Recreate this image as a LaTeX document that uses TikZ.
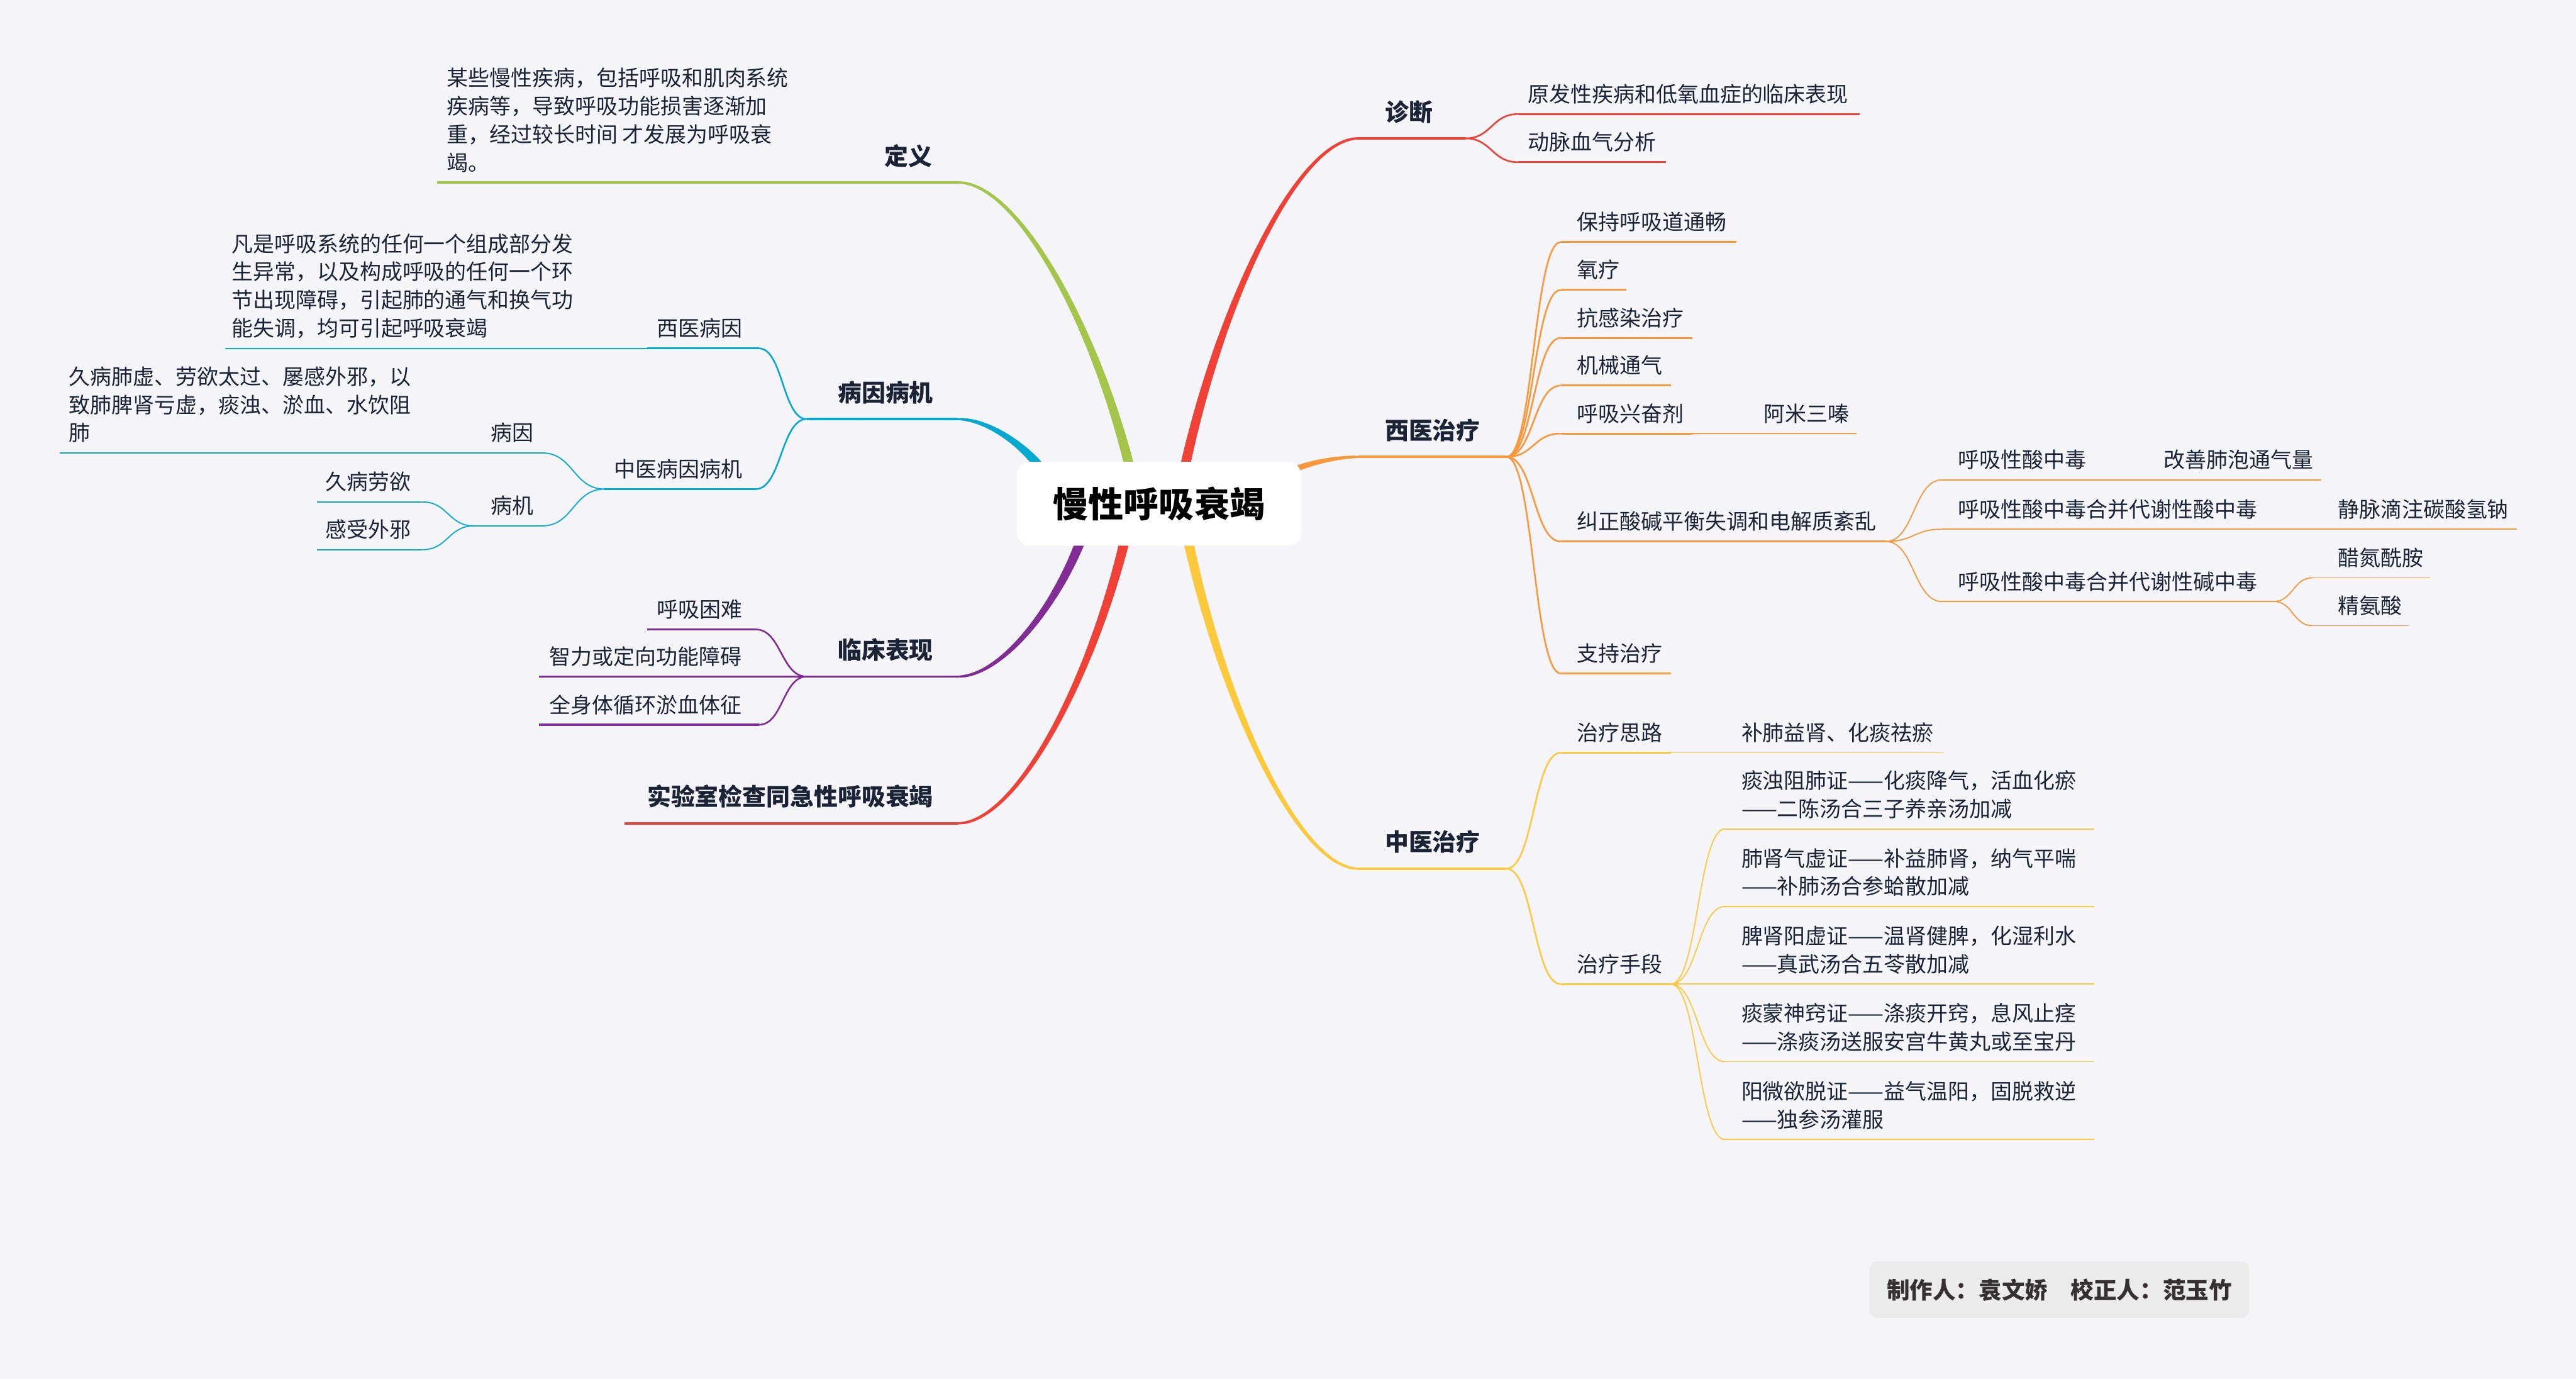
\documentclass[tikz,border=0pt]{standalone}
\usepackage{fontspec}
\setmainfont{Noto Sans CJK SC}
\usetikzlibrary{calc,decorations.markings}
\definecolor{bg}{HTML}{F5F5F9}
\definecolor{txt}{HTML}{1B2336}
\definecolor{cgreen}{HTML}{A3C54A}
\definecolor{ccyan}{HTML}{07A9D1}
\definecolor{cpurple}{HTML}{812D95}
\definecolor{cred}{HTML}{EF4136}
\definecolor{corange}{HTML}{F8983A}
\definecolor{cyellow}{HTML}{FDC83B}
\definecolor{creditbg}{HTML}{EBEBEB}
\definecolor{credittxt}{HTML}{363030}
\newcommand\ms{\rule[-0.12em]{0pt}{1em}}
\tikzset{
  t/.style={anchor=south west, inner sep=0pt, outer sep=0pt, yshift=-0.8pt, text=txt, font=\fontsize{13}{17.2}\selectfont, execute at begin node=\ms},
  tb/.style={t, font=\fontsize{14.5}{18}\selectfont\bfseries},
  ul1/.style={line width=1.4pt},
  ul2/.style={line width=1.2pt},
  ul3/.style={line width=0.7pt},
  cn2/.style={line width=1.0pt},
  cn3/.style={line width=0.7pt},
  sc/.style={to path={let \p1=(\tikztostart), \p2=(\tikztotarget) in (\p1) .. controls ({0.5*\x1+0.5*\x2},\y1) and ({0.5*\x1+0.5*\x2},\y2) .. (\p2)}},
  mb/.style={to path={let \p1=(\tikztostart), \p2=(\tikztotarget) in (\p1) .. controls ({\x1+0.2*(\x2-\x1)},{\y1+0.5*(\y2-\y1)}) and ({\x2-0.35*(\x2-\x1)},\y2) .. (\p2)}},
  taper/.style n args={3}{decoration={markings, mark=between positions 0 and 1 step 0.35pt with {\pgfmathsetmacro\rr{#2-(#2-#3)*\pgfkeysvalueof{/pgf/decoration/mark info/sequence number}*0.35/\pgfdecoratedpathlength}\fill[#1] (0,0) circle (\rr pt);}}, postaction=decorate}
}
\begin{document}
\begin{tikzpicture}[x=1pt,y=1pt]
\fill[bg] (0,0) rectangle (1568,-839);
\useasboundingbox (0,0) rectangle (1568,-839);

% ---------- coordinates: branch starts ----------
\coordinate (s1) at (689,-290);
\coordinate (s2) at (637,-290);
\coordinate (s3) at (660,-323);
\coordinate (s4) at (686,-323);
\coordinate (s5) at (720,-290);
\coordinate (s6) at (783,-288);
\coordinate (s7) at (722,-323);

% ---------- underline ends ----------
\coordinate (dyR) at (583,-111);   \coordinate (dyL) at (530,-111);  \coordinate (dydL) at (266,-111);
\coordinate (bjR) at (583,-255);   \coordinate (bjL) at (491,-255);
\coordinate (xbR) at (462,-212);   \coordinate (xbL) at (394,-212);  \coordinate (xbdL) at (137,-212);
\coordinate (zbR) at (460,-297.6); \coordinate (zbL) at (368,-297.6);
\coordinate (byR) at (330,-275.6); \coordinate (byL) at (289,-275.6); \coordinate (bydL) at (36.5,-275.6);
\coordinate (bmR) at (330,-320);   \coordinate (bmL) at (288.5,-320);
\coordinate (jbR) at (257,-305.4); \coordinate (jbL) at (193,-305.4);
\coordinate (gsR) at (257,-334.5); \coordinate (gsL) at (193,-334.5);
\coordinate (lcR) at (583,-411.7); \coordinate (lcL) at (491,-411.7);
\coordinate (hkR) at (460,-383);   \coordinate (hkL) at (394,-383);
\coordinate (zlR) at (462,-411.7); \coordinate (zlL) at (328,-411.7);
\coordinate (qsR) at (462,-441);   \coordinate (qsL) at (328,-441);
\coordinate (syR) at (583,-501);   \coordinate (syL) at (380,-501);

\coordinate (zdL) at (827,-84.2);  \coordinate (zdR) at (892,-84.2);
\coordinate (yfL) at (924,-69.4);  \coordinate (yfR) at (1132,-69.4);
\coordinate (dmL) at (924,-98.7);  \coordinate (dmR) at (1014,-98.7);

\coordinate (xyL) at (827,-278);   \coordinate (xyR) at (917,-278);
\coordinate (bcL) at (950,-147.3); \coordinate (bcR) at (1057,-147.3);
\coordinate (ylL) at (950,-176.4); \coordinate (ylR) at (990,-176.4);
\coordinate (kgL) at (950,-205.6); \coordinate (kgR) at (1030,-205.6);
\coordinate (jxL) at (950,-234.6); \coordinate (jxR) at (1017,-234.6);
\coordinate (hxL) at (950,-263.8); \coordinate (hxR) at (1030,-263.8); \coordinate (amR) at (1130,-263.8);
\coordinate (jzL) at (950,-329.5); \coordinate (jzR) at (1148,-329.5);
\coordinate (zcL) at (950,-409.8); \coordinate (zcR) at (1017,-409.8);
\coordinate (a1L) at (1182,-292);  \coordinate (a1R) at (1280,-292);  \coordinate (a1dR) at (1413,-292);
\coordinate (a2L) at (1182,-322);  \coordinate (a2R) at (1384,-322);  \coordinate (a2dR) at (1532,-322);
\coordinate (a3L) at (1182,-366);  \coordinate (a3R) at (1384,-366);
\coordinate (cdL) at (1407.5,-351.6); \coordinate (cdR) at (1479,-351.6);
\coordinate (jaL) at (1407.5,-380.7); \coordinate (jaR) at (1466,-380.7);

\coordinate (zyL) at (827,-528.6); \coordinate (zyR) at (917,-528.6);
\coordinate (slL) at (950,-458);   \coordinate (slR) at (1017,-458);  \coordinate (sldR) at (1183,-458);
\coordinate (sdL) at (950,-598.8); \coordinate (sdR) at (1017,-598.8);
\coordinate (z1L) at (1050,-504.4); \coordinate (z1R) at (1274.6,-504.4);
\coordinate (z2L) at (1050,-551.6); \coordinate (z2R) at (1274.6,-551.6);
\coordinate (z3L) at (1050,-598.8); \coordinate (z3R) at (1274.6,-598.8);
\coordinate (z4L) at (1050,-646);   \coordinate (z4R) at (1274.6,-646);
\coordinate (z5L) at (1050,-693.4); \coordinate (z5R) at (1274.6,-693.4);

% ---------- main branches (tapered) ----------
\path[taper={cgreen}{3}{0.7}]   (s1) to[mb] (dyR);
\path[taper={ccyan}{3}{0.7}]    (s2) to[mb] (bjR);
\path[taper={cpurple}{3}{0.7}]  (s3) to[mb] (lcR);
\path[taper={cred}{3}{0.7}]     (s4) to[mb] (syR);
\path[taper={cred}{3}{0.7}]     (s5) to[mb] (zdL);
\path[taper={corange}{2}{0.7}]  (s6) to[mb] (xyL);
\path[taper={cyellow}{3}{0.7}]  (s7) to[mb] (zyL);

% ---------- left: 定义 ----------
\draw[cgreen,ul1] (dyR) -- (dyL);
\draw[cgreen,ul2] (dyL) -- (dydL);

% ---------- left: 病因病机 ----------
\draw[ccyan,ul1] (bjR) -- (bjL);
\draw[ccyan,cn2] (bjL) to[sc] (xbR);
\draw[ccyan,cn2] (bjL) to[sc] (zbR);
\draw[ccyan,ul2] (xbR) -- (xbL);
\draw[ccyan,ul3] (xbL) -- (xbdL);
\draw[ccyan,ul2] (zbR) -- (zbL);
\draw[ccyan,cn3] (zbL) to[sc] (byR);
\draw[ccyan,cn3] (zbL) to[sc] (bmR);
\draw[ccyan,ul3] (byR) -- (byL) -- (bydL);
\draw[ccyan,ul3] (bmR) -- (bmL);
\draw[ccyan,cn3] (bmL) to[sc] (jbR);
\draw[ccyan,cn3] (bmL) to[sc] (gsR);
\draw[ccyan,ul3] (jbR) -- (jbL);
\draw[ccyan,ul3] (gsR) -- (gsL);

% ---------- left: 临床表现 ----------
\draw[cpurple,ul1] (lcR) -- (lcL);
\draw[cpurple,cn2] (lcL) to[sc] (hkR);
\draw[cpurple,cn2] (lcL) to[sc] (zlR);
\draw[cpurple,cn2] (lcL) to[sc] (qsR);
\draw[cpurple,ul2] (hkR) -- (hkL);
\draw[cpurple,ul2] (zlR) -- (zlL);
\draw[cpurple,ul2] (qsR) -- (qsL);

% ---------- left: 实验室 ----------
\draw[cred,ul1] (syR) -- (syL);

% ---------- right: 诊断 ----------
\draw[cred,ul1] (zdL) -- (zdR);
\draw[cred,cn2] (zdR) to[sc] (yfL);
\draw[cred,cn2] (zdR) to[sc] (dmL);
\draw[cred,ul2] (yfL) -- (yfR);
\draw[cred,ul2] (dmL) -- (dmR);

% ---------- right: 西医治疗 ----------
\draw[corange,ul1] (xyL) -- (xyR);
\foreach \c in {bc,yl,kg,jx,hx,jz,zc}{
  \draw[corange,cn2] (xyR) to[sc] (\c L);
  \draw[corange,ul2] (\c L) -- (\c R);
}
\draw[corange,ul3] (hxR) -- (amR);
\foreach \c in {a1,a2,a3}{
  \draw[corange,cn3] (jzR) to[sc] (\c L);
  \draw[corange,ul3] (\c L) -- (\c R);
}
\draw[corange,ul3] (a1R) -- (a1dR);
\draw[corange,ul3] (a2R) -- (a2dR);
\foreach \c in {cd,ja}{
  \draw[corange,cn3] (a3R) to[sc] (\c L);
  \draw[corange,ul3] (\c L) -- (\c R);
}

% ---------- right: 中医治疗 ----------
\draw[cyellow,ul1] (zyL) -- (zyR);
\foreach \c in {sl,sd}{
  \draw[cyellow,cn2] (zyR) to[sc] (\c L);
  \draw[cyellow,ul2] (\c L) -- (\c R);
}
\draw[cyellow,ul3] (slR) -- (sldR);
\foreach \c in {z1,z2,z3,z4,z5}{
  \draw[cyellow,cn3] (sdR) to[sc] (\c L);
  \draw[cyellow,ul3] (\c L) -- (\c R);
}

% ---------- root ----------
\node[fill=white, rounded corners=8pt, minimum width=173pt, minimum height=51pt, inner sep=0pt,
      font=\fontsize{21.5}{24}\selectfont\bfseries, text=black] (root) at (705.5,-306.5) {慢性呼吸衰竭};

% ---------- texts: left ----------
\node[tb] (tdy) at (538.5,-101.25) {定义};
\node[t, align=left] (tdyd) at (272,-104.5) {某些慢性疾病，包括呼吸和肌肉系统\\\ms 疾病等，导致呼吸功能损害逐渐加\\\ms 重，经过较长时间 才发展为呼吸衰\\\ms 竭。};
\node[tb] (tbj) at (510,-245.25) {病因病机};
\node[t] (txb) at (400,-205.5) {西医病因};
\node[t, align=left] (txbd) at (141,-205.5) {凡是呼吸系统的任何一个组成部分发\\\ms 生异常，以及构成呼吸的任何一个环\\\ms 节出现障碍，引起肺的通气和换气功\\\ms 能失调，均可引起呼吸衰竭};
\node[t] (tzb) at (374,-291.1) {中医病因病机};
\node[t] (tby) at (298.7,-269.1) {病因};
\node[t, align=left] (tbyd) at (42,-269.1) {久病肺虚、劳欲太过、屡感外邪，以\\\ms 致肺脾肾亏虚，痰浊、淤血、水饮阻\\\ms 肺};
\node[t] (tbm) at (298.7,-313.5) {病机};
\node[t] (tjb) at (198,-298.9) {久病劳欲};
\node[t] (tgs) at (198,-328) {感受外邪};
\node[tb] (tlc) at (510,-401.95) {临床表现};
\node[t] (thk) at (400,-376.5) {呼吸困难};
\node[t] (tzl) at (334.5,-405.2) {智力或定向功能障碍};
\node[t] (tqs) at (334.5,-434.5) {全身体循环淤血体征};
\node[tb] (tsy) at (394,-491.25) {实验室检查同急性呼吸衰竭};

% ---------- texts: right ----------
\node[tb] (tzd) at (843,-74.45) {诊断};
\node[t] (tyf) at (930,-62.9) {原发性疾病和低氧血症的临床表现};
\node[t] (tdm) at (930,-92.2) {动脉血气分析};
\node[tb] (txy) at (843,-268.25) {西医治疗};
\node[t] (tbc) at (960,-140.8) {保持呼吸道通畅};
\node[t] (tyl) at (960,-169.9) {氧疗};
\node[t] (tkg) at (960,-199.1) {抗感染治疗};
\node[t] (tjx) at (960,-228.1) {机械通气};
\node[t] (thx) at (960,-257.3) {呼吸兴奋剂};
\node[t] (tam) at (1073.6,-257.3) {阿米三嗪};
\node[t] (tjz) at (960,-323) {纠正酸碱平衡失调和电解质紊乱};
\node[t] (ta1) at (1192,-285.5) {呼吸性酸中毒};
\node[t] (ta1d) at (1317,-285.5) {改善肺泡通气量};
\node[t] (ta2) at (1192,-315.5) {呼吸性酸中毒合并代谢性酸中毒};
\node[t] (ta2d) at (1423,-315.5) {静脉滴注碳酸氢钠};
\node[t] (ta3) at (1192,-359.5) {呼吸性酸中毒合并代谢性碱中毒};
\node[t] (tcd) at (1423,-345.1) {醋氮酰胺};
\node[t] (tja) at (1423,-374.2) {精氨酸};
\node[t] (tzc) at (960,-403.3) {支持治疗};
\node[tb] (tzy) at (843,-518.85) {中医治疗};
\node[t] (tsl) at (960,-451.5) {治疗思路};
\node[t] (tsld) at (1060,-451.5) {补肺益肾、化痰祛瘀};
\node[t] (tsd) at (960,-592.3) {治疗手段};
\node[t, align=left] (tz1) at (1060,-497.9) {痰浊阻肺证——化痰降气，活血化瘀\\\ms ——二陈汤合三子养亲汤加减};
\node[t, align=left] (tz2) at (1060,-545.1) {肺肾气虚证——补益肺肾，纳气平喘\\\ms ——补肺汤合参蛤散加减};
\node[t, align=left] (tz3) at (1060,-592.3) {脾肾阳虚证——温肾健脾，化湿利水\\\ms ——真武汤合五苓散加减};
\node[t, align=left] (tz4) at (1060,-639.5) {痰蒙神窍证——涤痰开窍，息风止痉\\\ms ——涤痰汤送服安宫牛黄丸或至宝丹};
\node[t, align=left] (tz5) at (1060,-686.9) {阳微欲脱证——益气温阳，固脱救逆\\\ms ——独参汤灌服};

% ---------- credit ----------
\node[fill=creditbg, rounded corners=5pt, minimum width=231pt, minimum height=34.4pt, inner sep=0pt,
      font=\fontsize{14}{16}\selectfont\bfseries, text=credittxt] (credit) at (1253.5,-784.8) {制作人：袁文娇\quad 校正人：范玉竹};
\end{tikzpicture}
\end{document}
